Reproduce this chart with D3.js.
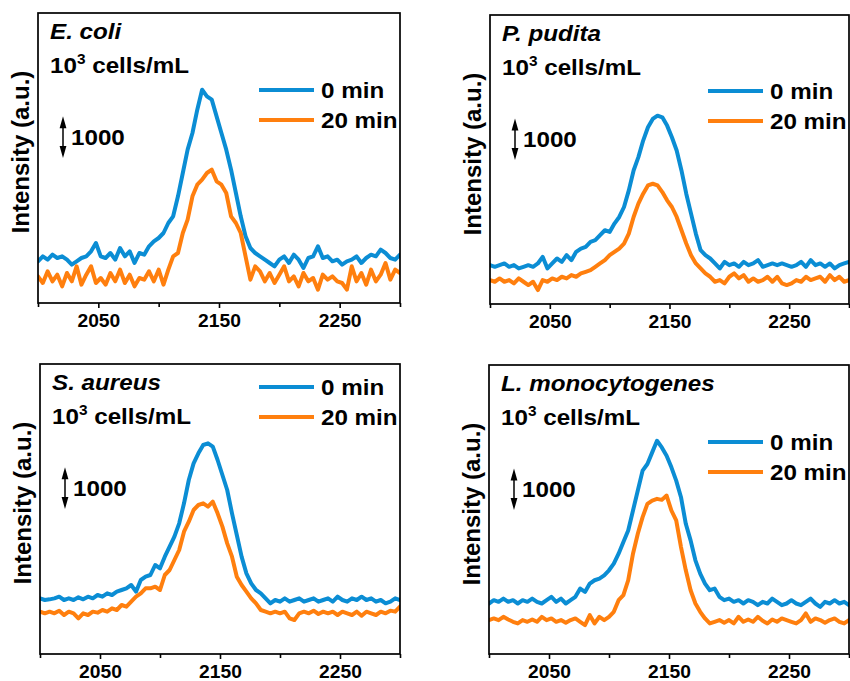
<!DOCTYPE html>
<html>
<head>
<meta charset="utf-8">
<script src="https://cdn.jsdelivr.net/npm/d3@7/dist/d3.min.js"></script>
<style>
  html, body { margin: 0; padding: 0; background: #fff; }
  svg { display: block; }
  text { font-family: "Liberation Sans", Arial, Helvetica, sans-serif; font-weight: bold; fill: #000; }
</style>
</head>
<body>
<svg id="chart" width="850" height="681"></svg>
<script>
// Raman shift axis (cm^-1), sampled every 4 units from 2000 to 2300
const wavenumber = d3.range(2000, 2301, 4);
const majorTicks = [2050, 2150, 2250];
const minorTicks = [2000, 2100, 2200, 2300];
const seriesNames = ["0 min", "20 min"];
const scaleBarValue = 1000;

// Intensities (a.u.), one value per wavenumber
const ecoli0 = [1000,1120,1040,1160,1080,1120,1040,920,1000,1080,1120,1240,1440,1120,1080,1200,1040,1320,1120,1240,960,1200,1160,1360,1480,1560,1680,1920,2080,2560,3120,3680,4080,4640,5120,4960,4880,4480,4080,3680,3200,2640,2080,1600,1320,1200,1120,1040,960,880,1040,1120,960,1160,1040,840,1080,1120,1360,1080,1120,1000,1040,920,1000,1040,1120,960,1080,1160,1120,1280,1200,1080,1040,1160];
const ecoli20 = [640,480,760,520,680,400,720,520,880,440,680,880,480,600,440,720,520,800,480,680,400,600,560,760,520,800,440,800,1120,1200,1680,2000,2560,2840,2960,3120,3200,2920,2840,2640,2080,1920,1680,1120,560,880,760,520,720,480,680,880,520,640,400,720,520,600,320,680,560,640,520,480,320,880,520,720,440,800,520,680,960,560,800,720];

const pudita0 = [936,896,936,976,896,936,856,896,936,896,976,1136,856,976,1096,1016,1176,1056,1256,1336,1376,1496,1536,1656,1776,1736,1936,2096,2336,2736,3216,3536,3936,4256,4456,4536,4496,4296,4016,3696,3216,2656,2176,1696,1296,1176,1096,976,856,1016,936,976,896,1016,936,976,1056,896,936,976,936,976,936,896,936,1016,896,1056,936,976,896,976,856,936,976,1016];
const pudita20 = [576,536,616,536,576,496,616,536,456,536,336,576,536,616,576,656,616,696,656,736,776,816,896,976,1056,1176,1256,1336,1456,1696,2096,2416,2656,2856,2896,2856,2696,2496,2336,2096,1776,1456,1176,976,856,736,656,536,576,496,656,736,616,696,536,616,536,576,656,536,656,496,456,496,576,536,656,576,616,656,536,696,576,656,536,576];

const aureus0 = [1336,1296,1312,1336,1376,1296,1336,1296,1360,1312,1376,1336,1416,1376,1456,1416,1496,1536,1576,1656,1496,1776,1856,1896,2136,2056,2336,2576,2816,3136,3616,4176,4576,4816,5016,5056,4976,4656,4296,3936,3376,2856,2336,1936,1696,1536,1456,1336,1216,1296,1256,1336,1256,1296,1336,1256,1296,1336,1256,1296,1336,1256,1376,1296,1256,1336,1296,1376,1296,1336,1256,1296,1216,1256,1336,1296];
const aureus20 = [1016,976,1016,976,1040,936,1016,976,856,976,936,1016,992,1056,1016,1096,1056,1176,1136,1256,1376,1456,1576,1576,1616,1536,1896,2016,2256,2496,2936,3176,3456,3576,3616,3536,3656,3376,3056,2656,2336,1856,1656,1496,1336,1216,1056,1016,976,1016,976,1016,856,816,976,1016,976,1040,960,1016,976,1016,936,1016,976,936,1016,920,1016,976,936,1016,976,1040,1016,1136];

const listeria0 = [1216,1296,1256,1336,1256,1296,1216,1296,1256,1336,1256,1216,1296,1376,1256,1336,1216,1296,1376,1576,1496,1696,1776,1816,1896,2016,2176,2416,2696,2976,3456,3936,4416,4576,4856,5136,4976,4776,4496,4176,3776,3136,2736,2256,1936,1696,1536,1576,1376,1296,1336,1256,1296,1216,1296,1256,1176,1256,1216,1336,1256,1176,1216,1296,1216,1176,1256,1336,1216,1136,1256,1216,1296,1216,1256,1176];
const listeria20 = [816,856,816,896,832,776,736,816,776,832,776,896,816,856,776,816,752,816,856,776,696,936,736,896,816,896,1016,1296,1416,1776,2416,2896,3296,3616,3696,3736,3712,3816,3456,3216,2576,2016,1536,1216,1016,856,736,776,816,752,816,736,896,776,832,776,896,800,736,832,776,856,816,776,736,816,976,776,856,816,752,816,856,776,736,816];

// Panel contents
const panels = [
  { title: "E. coli",          series: [ecoli0, ecoli20] },
  { title: "P. pudita",        series: [pudita0, pudita20] },
  { title: "S. aureus",        series: [aureus0, aureus20] },
  { title: "L. monocytogenes", series: [listeria0, listeria20] }
];

// Frame of each panel and where its annotations sit (pixels)
const layout = [
  { left: 38,  top: 13,  width: 362, height: 290, legendTop: 77 },
  { left: 490, top: 15,  width: 359, height: 289, legendTop: 76 },
  { left: 40,  top: 364, width: 360, height: 290, legendTop: 23 },
  { left: 489, top: 365, width: 360, height: 289, legendTop: 77 }
];

const colors = ["#0b8dd4", "#ff7f0e"];
const intensityMax = 6960;
const textStretch = 1.1;   // glyphs are drawn slightly wide

const svg = d3.select("#chart");

// bold label placed at (x, y), stretched horizontally
function label(parent, x, y, size) {
  return parent.append("text")
    .attr("transform", `translate(${x},${y}) scale(${textStretch},1)`)
    .style("font-size", size + "px");
}

panels.forEach((p, i) => {
  const L = layout[i];
  const g = svg.append("g").attr("transform", `translate(${L.left},${L.top})`);

  const x = d3.scaleLinear().domain([2000, 2300]).range([0, L.width]);
  const y = d3.scaleLinear().domain([0, intensityMax]).range([L.height, 0]);

  const clipId = "clip" + i;
  g.append("clipPath").attr("id", clipId)
    .append("rect").attr("x", 0).attr("y", 0).attr("width", L.width).attr("height", L.height);

  const line = d3.line()
    .x((d, k) => x(wavenumber[k]))
    .y(d => y(d));

  // spectra: 0 min drawn first, 20 min on top
  p.series.forEach((s, k) => {
    g.append("path")
      .datum(s)
      .attr("clip-path", `url(#${clipId})`)
      .attr("fill", "none")
      .attr("stroke", colors[k])
      .attr("stroke-width", 4)
      .attr("stroke-linejoin", "round")
      .attr("stroke-linecap", "round")
      .attr("d", line);
  });

  // bottom axis: labelled and unlabelled ticks
  const axMajor = d3.axisBottom(x).tickValues(majorTicks).tickSize(5).tickPadding(6).tickFormat(d3.format("d"));
  const axMinor = d3.axisBottom(x).tickValues(minorTicks).tickSize(4).tickFormat("");
  [axMajor, axMinor].forEach(ax => {
    const a = g.append("g").attr("transform", `translate(0,${L.height})`).call(ax);
    a.select(".domain").remove();
    a.selectAll("line").attr("stroke", "#000").attr("stroke-width", 1.6);
    a.selectAll("text")
      .style("font-size", "18px").style("font-weight", "bold")
      .style("font-family", "'Liberation Sans', Arial, sans-serif")
      .attr("fill", "#000")
      .attr("transform", "scale(1.07,1)")
      .attr("x", 0);
    a.selectAll(".tick").each(function () {
      const t = d3.select(this).select("text");
      if (!t.empty()) t.attr("transform", "scale(1.07,1)");
    });
  });

  // frame
  g.append("rect")
    .attr("x", 0).attr("y", 0).attr("width", L.width).attr("height", L.height)
    .attr("fill", "none").attr("stroke", "#000").attr("stroke-width", 1.7);

  // y label
  g.append("text")
    .attr("transform", `translate(-9,139) rotate(-90)`)
    .attr("text-anchor", "middle")
    .style("font-size", "24px")
    .text("Intensity (a.u.)");

  // species name and concentration
  label(g, 12, 26, 22).style("font-style", "italic").text(p.title);
  const conc = label(g, 12, 60, 22);
  conc.append("tspan").text("10");
  conc.append("tspan").attr("dy", -9).style("font-size", "14px").text("3");
  conc.append("tspan").attr("dy", 9).text(" cells/mL");

  // legend
  seriesNames.forEach((name, k) => {
    const ly = L.legendTop + k * 30;
    g.append("line")
      .attr("x1", L.width - 141).attr("x2", L.width - 86)
      .attr("y1", ly).attr("y2", ly)
      .attr("stroke", colors[k]).attr("stroke-width", 4.2);
    label(g, L.width - 79, ly + 8, 22).text(name);
  });

  // intensity scale bar (1000 a.u.)
  const barX = 25;
  const barBottom = 145;
  const barTop = barBottom - (y(0) - y(scaleBarValue));
  g.append("line")
    .attr("x1", barX).attr("x2", barX)
    .attr("y1", barTop + 6).attr("y2", barBottom - 6)
    .attr("stroke", "#000").attr("stroke-width", 1.5);
  g.append("path")
    .attr("d", `M${barX},${barTop} L${barX - 3.4},${barTop + 12} L${barX + 3.4},${barTop + 12} Z`)
    .attr("fill", "#000");
  g.append("path")
    .attr("d", `M${barX},${barBottom} L${barX - 3.4},${barBottom - 12} L${barX + 3.4},${barBottom - 12} Z`)
    .attr("fill", "#000");
  label(g, barX + 8, (barTop + barBottom) / 2 + 8, 22).text(d3.format("d")(scaleBarValue));
});
</script>
</body>
</html>
